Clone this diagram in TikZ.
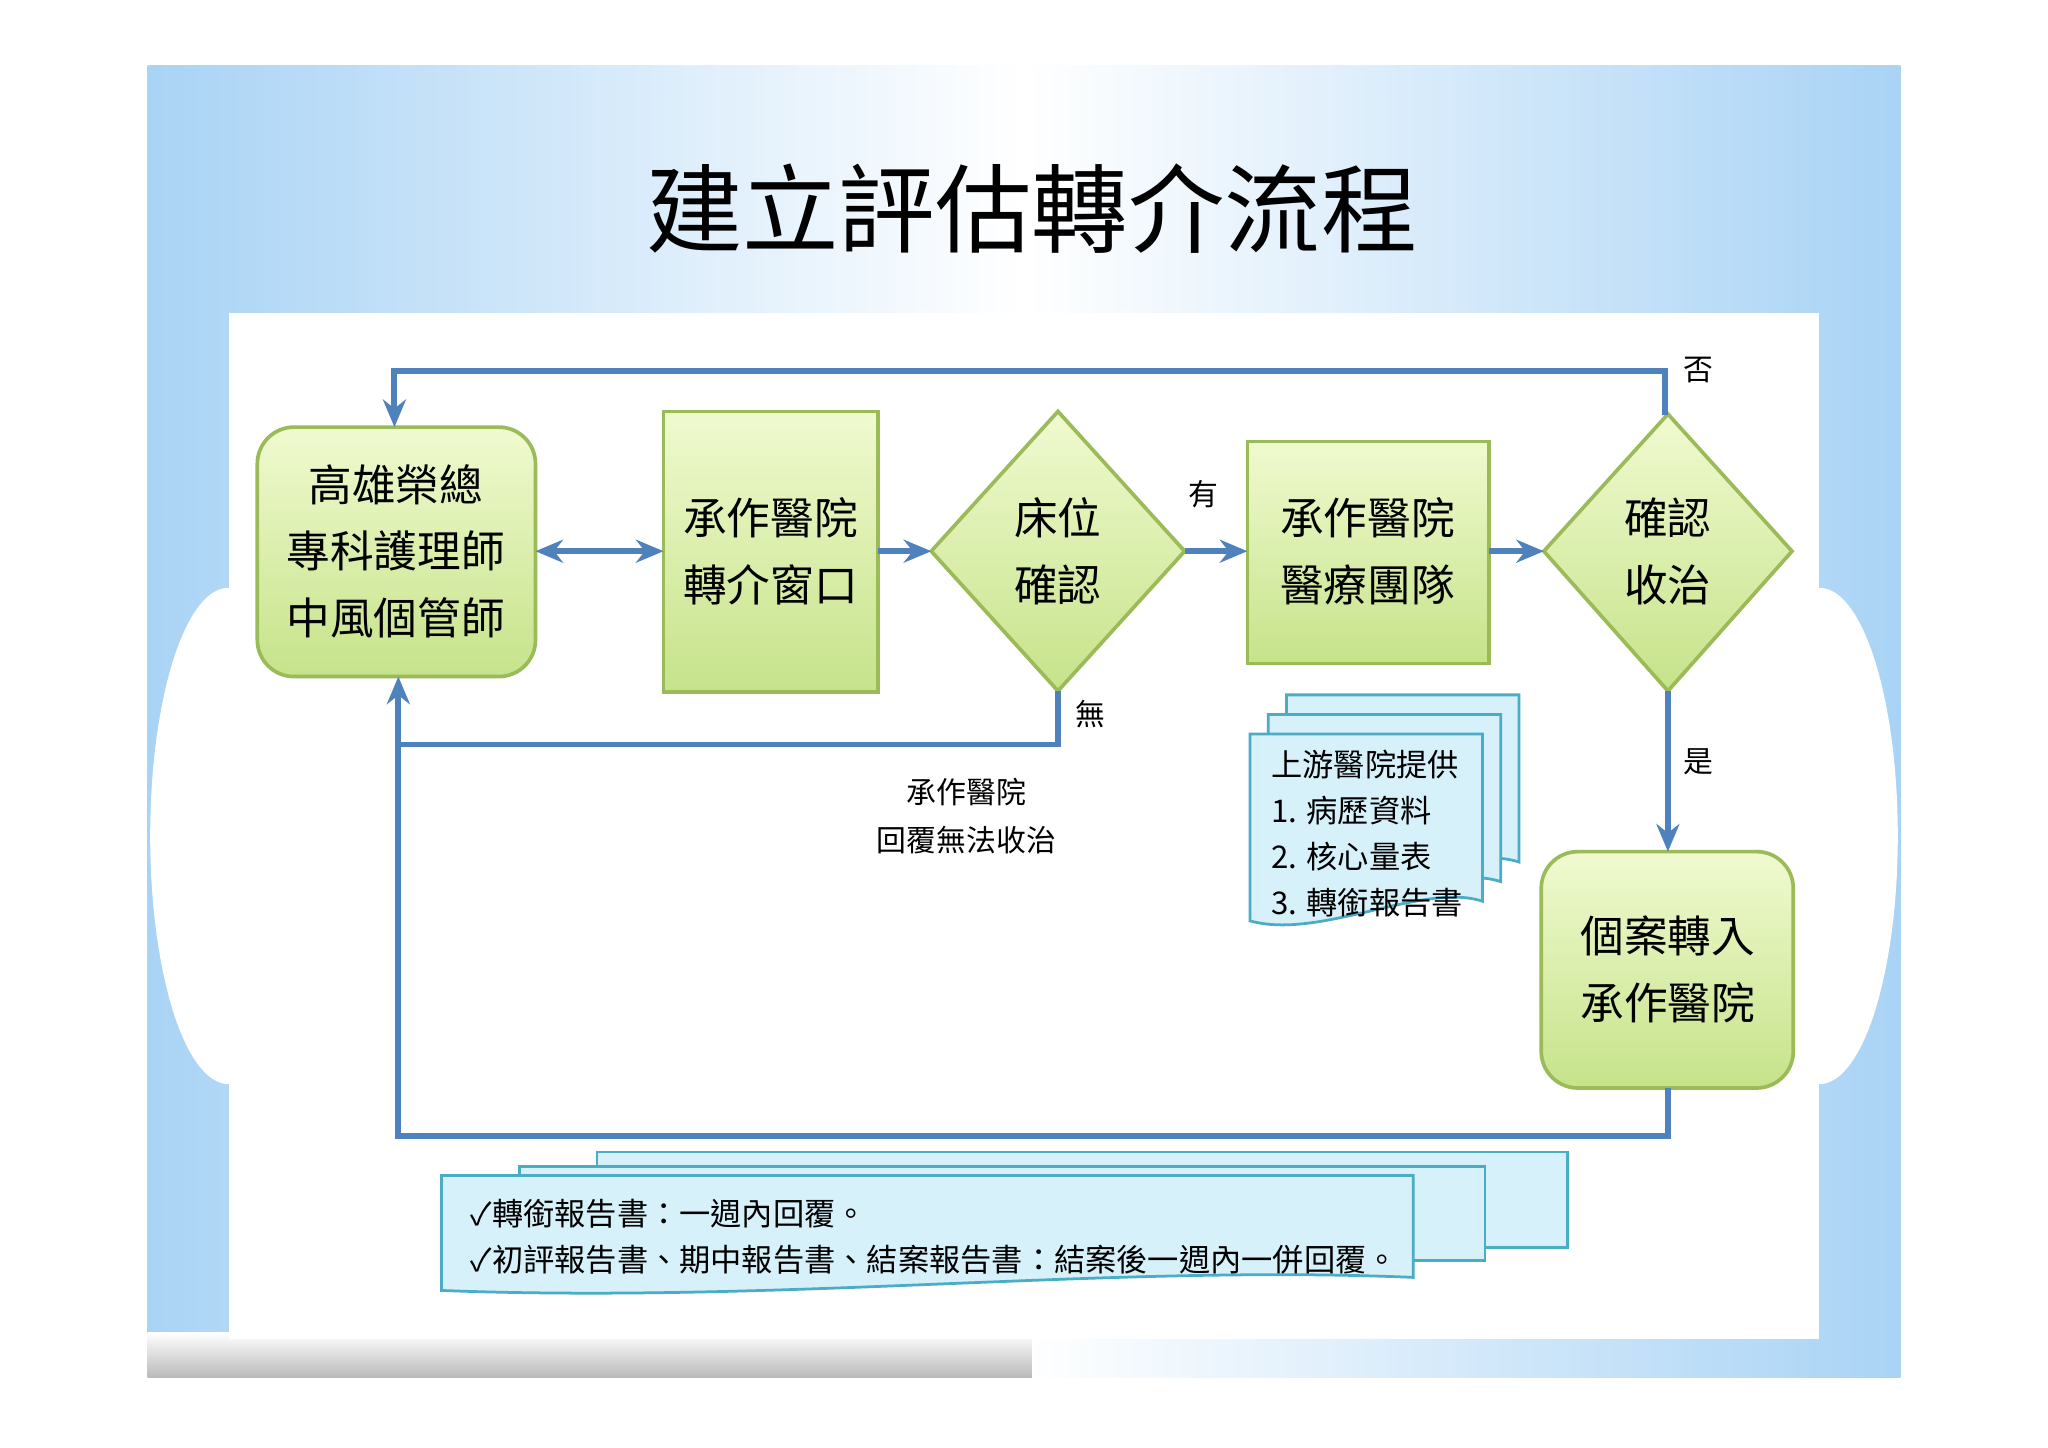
\documentclass[tikz,border=0pt]{standalone}
\usepackage{fontspec}
\setmainfont{Noto Sans CJK TC}
\usetikzlibrary{arrows.meta}
\definecolor{lnblue}{HTML}{4F81BD}
\definecolor{grnborder}{HTML}{9BBB59}
\definecolor{grnlight}{HTML}{F0FAD0}
\definecolor{grndark}{HTML}{C6E38A}
\definecolor{docfill}{HTML}{D6F1FA}
\definecolor{docborder}{HTML}{4BACC6}
\definecolor{skyA}{HTML}{A9D3F5}
\tikzset{
 gbox/.style={draw=grnborder,line width=0.8pt,top color=grnlight,bottom color=grndark},
 gtxt/.style={align=center,font=\fontsize{9.5}{14.5}\selectfont},
 conn/.style={draw=lnblue,line width=1.3pt,-{Stealth[length=6pt,width=5pt]}},
 line/.style={draw=lnblue,line width=1.3pt},
 doc/.style={draw=docborder,line width=0.6pt,fill=docfill},
 lbl/.style={font=\fontsize{6.5}{10}\selectfont,align=center}
}
\begin{document}
\begin{tikzpicture}[x=0.01cm,y=-0.01cm]
\useasboundingbox (0,0) rectangle (1568,1108);
\fill[white] (0,0) rectangle (1568,1108);
\shade[left color=skyA,right color=skyA,middle color=white] (113,50) rectangle (1455,1055);
\shade[top color=white,bottom color=gray!55] (113,1020) rectangle (790,1055);
\fill[white] (175,240) rectangle (1393,1025);
\fill[white] (175,640) ellipse (60 and 190);
\fill[white] (1393,640) ellipse (60 and 190);
\node[font=\fontsize{21}{26}\selectfont] (title) at (790,160) {建立評估轉介流程};
% nodes
\path[gbox,rounded corners=8pt] (197,327) rectangle (410,518);
\node[gtxt] (A) at (303,422) {高雄榮總\\專科護理師\\中風個管師};
\path[gbox] (508,315) rectangle (672,530);
\node[gtxt] (B) at (590,422) {承作醫院\\轉介窗口};
\path[gbox] (810,315) -- (907,422) -- (810,529) -- (713,422) -- cycle;
\node[gtxt] (C) at (810,422) {床位\\確認};
\path[gbox] (955,338) rectangle (1140,508);
\node[gtxt] (D) at (1047,422) {承作醫院\\醫療團隊};
\path[gbox] (1277,317) -- (1372,422) -- (1277,529) -- (1182,422) -- cycle;
\node[gtxt] (E) at (1277,422) {確認\\收治};
\path[gbox,rounded corners=8pt] (1180,652) rectangle (1373,833);
\node[gtxt] (F) at (1277,742) {個案轉入\\承作醫院};
\coordinate (Atop) at (302,327); \coordinate (Abot) at (305,518);
\coordinate (Ctop) at (810,529); \coordinate (Etop) at (1275,318);
\coordinate (Ebot) at (1277,529); \coordinate (Ftop) at (1277,652);
\coordinate (Fbot) at (1277,833);
% connectors
\draw[conn,{Stealth[length=6pt,width=5pt]}-{Stealth[length=6pt,width=5pt]}] (410,422) -- (508,422);
\draw[conn] (672,422) -- (713,422);
\draw[conn] (907,422) -- (955,422);
\draw[conn] (1140,422) -- (1182,422);
\draw[conn] (Ebot) -- (Ftop);
\draw[conn] (Etop) -- (1275,284) -- (302,284) -- (Atop);
\draw[conn] (Ctop) -- (810,570) -- (305,570) -- (Abot);
\draw[line] (Fbot) -- (1277,870) -- (305,870) -- (305,570);
\node[lbl] (y1) at (921,378) {有};
\node[lbl] (y2) at (1300,583) {是};
\node[lbl] (y3) at (1300,283) {否};
\node[lbl] (y4) at (835,547) {無};
\node[lbl,font=\fontsize{6.5}{10.5}\selectfont] (rep) at (740,625) {承作醫院\\回覆無法收治};
% doc stack right
\foreach \dx/\dy in {28/-30,14/-15,0/0}{
 \path[doc] (957+\dx,562+\dy) -- (1135+\dx,562+\dy) -- (1135+\dx,690+\dy)
   .. controls (1090+\dx,675+\dy) and (1010+\dx,720+\dy) .. (957+\dx,705+\dy) -- cycle;}
\node[align=left,anchor=north west,font=\fontsize{6.8}{10}\selectfont] (docR) at (961,562) {上游醫院提供\\1. 病歷資料\\2. 核心量表\\3. 轉銜報告書};
% doc stack bottom
\path[doc] (457,882) rectangle (1200,955);
\path[doc] (398,893) rectangle (1137,965);
\path[doc] (338,900) -- (1082,900) -- (1082,978) .. controls (850,968) and (600,998) .. (338,988) -- cycle;
\node[align=left,anchor=north west,font=\fontsize{6.8}{10}\selectfont] (docB) at (348,906) {✓轉銜報告書：一週內回覆。\\✓初評報告書、期中報告書、結案報告書：結案後一週內一併回覆。};
\end{tikzpicture}
\end{document}
